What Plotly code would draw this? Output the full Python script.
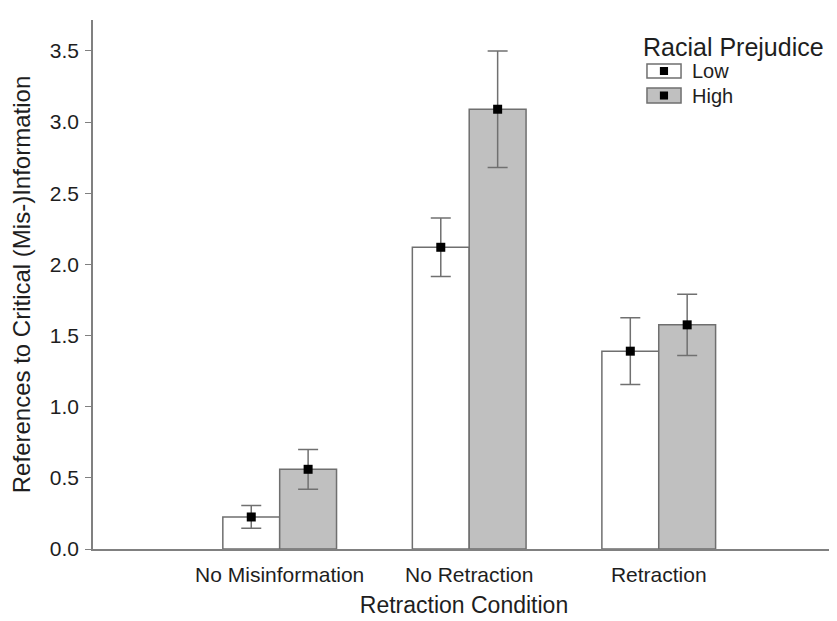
import plotly.graph_objects as go

categories = ["No Misinformation", "No Retraction", "Retraction"]
low_means = [0.225, 2.12, 1.39]
low_err = [0.08, 0.205, 0.235]
high_means = [0.56, 3.09, 1.575]
high_err = [0.14, 0.41, 0.215]
y_ticks = [0.0, 0.5, 1.0, 1.5, 2.0, 2.5, 3.0, 3.5]
series_names = ["Low", "High"]

FONT = "Liberation Sans, Arial, sans-serif"
EDGE = "#6f6f6f"
ERR = "#707070"
TXT = "#1e1e1e"

fig = go.Figure()
for name, means, errs, fill in [
    (series_names[0], low_means, low_err, "white"),
    (series_names[1], high_means, high_err, "#c0c0c0"),
]:
    fig.add_trace(go.Bar(
        x=categories, y=means, name=name, offsetgroup=name,
        marker=dict(color=fill, line=dict(color=EDGE, width=1.5)),
        error_y=dict(type="data", array=errs, color=ERR, thickness=1.5, width=10),
        showlegend=False,
    ))
    fig.add_trace(go.Scatter(
        x=categories, y=means, mode="markers", offsetgroup=name,
        marker=dict(symbol="square", size=9, color="black"),
        showlegend=False,
    ))

# page body has an 8px default margin, so the figure is sized to fit the window
fig.update_layout(
    width=829, height=613,
    margin=dict(l=85, r=2, t=12, b=72),
    paper_bgcolor="white", plot_bgcolor="white",
    barmode="group", bargap=0.4, bargroupgap=0.0,
    scattermode="group", scattergap=0.4,
    font=dict(family=FONT, color=TXT),
    xaxis=dict(
        range=[-0.985, 2.93], showline=True, linecolor="#808080", linewidth=1.5,
        ticks="", showgrid=False, tickfont=dict(size=21, color=TXT),
        ticklabelstandoff=6, automargin=False,
        title=dict(text="Retraction Condition", font=dict(size=23, color=TXT), standoff=12),
    ),
    yaxis=dict(
        range=[0, 3.717], tickvals=y_ticks, ticktext=[f"{v:.1f}" for v in y_ticks],
        showline=True, linecolor="#808080", linewidth=1.5,
        ticks="outside", ticklen=6, tickcolor="#808080", tickwidth=1,
        ticklabelstandoff=2, automargin=False,
        showgrid=False, zeroline=False, tickfont=dict(size=21, color=TXT),
        title=dict(text="References to Critical (Mis-)Information", font=dict(size=24, color=TXT), standoff=14),
    ),
)

# Custom legend
legend_title = "Racial Prejudice"
fig.add_annotation(xref="paper", yref="paper", x=0.739, y=0.949, xanchor="left", yanchor="middle",
                   text=legend_title, showarrow=False, font=dict(size=25, color=TXT))
box_rows = [(0.8904, 0.9168, "white", series_names[0]), (0.843, 0.8715, "#c0c0c0", series_names[1])]
for y0, y1, fill, label in box_rows:
    fig.add_shape(type="rect", xref="paper", yref="paper", x0=0.7466, x1=0.7925, y0=y0, y1=y1,
                  fillcolor=fill, line=dict(color=EDGE, width=1.5))
    cy = (y0 + y1) / 2
    fig.add_shape(type="rect", xref="paper", yref="paper", x0=0.7695 - 0.0055, x1=0.7695 + 0.0055,
                  y0=cy - 0.0076, y1=cy + 0.0076, fillcolor="black", line=dict(width=0))
    fig.add_annotation(xref="paper", yref="paper", x=0.805, y=cy, xanchor="left", yanchor="middle",
                       text=label, showarrow=False, font=dict(size=20, color=TXT))

fig.write_html("out.html")
